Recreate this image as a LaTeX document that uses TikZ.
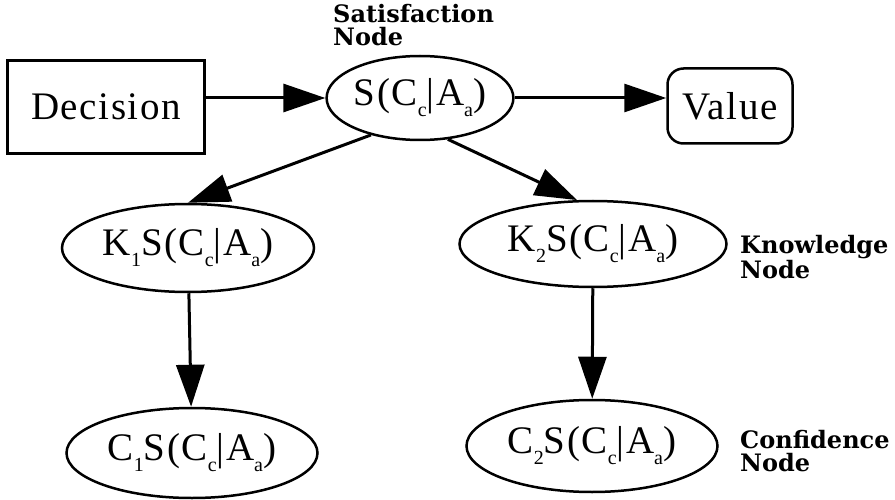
\documentclass[tikz,border=0pt]{standalone}
\usepackage{fontspec}
\setmainfont{Liberation Serif}[LetterSpace=4]
\newfontfamily\tagfont{DejaVu Serif}[BoldFont={DejaVu Serif Bold}]
\usetikzlibrary{arrows.meta,positioning}
\usetikzlibrary{shapes.geometric}
\newcommand{\sbs}[1]{\raisebox{-0.28em}{\fontsize{20}{20}\selectfont #1}}
\newcommand{\scc}{S(C\sbs{c}|A\sbs{a})}

\begin{document}
\begin{tikzpicture}[x=1pt,y=-1pt,
every node/.style={font=\fontsize{39}{40}\selectfont},
oval/.style={ellipse,draw,line width=2.5pt,inner sep=0pt},
tag/.style={font=\tagfont\bfseries\fontsize{24}{23}\selectfont,align=left,anchor=north west,inner sep=0pt},
arr/.style={line width=3pt,-{Triangle[length=42pt,width=28pt]}}]
\useasboundingbox (0,0) rectangle (895,500);
\node[draw,line width=2.5pt,minimum width=197pt,minimum height=93pt] (D) at (106,107) {Decision};
\node[oval,minimum width=176pt,minimum height=84pt] (S) at (420,98) {\scc};
\node[draw,rounded corners=16pt,line width=2.5pt,minimum width=125pt,minimum height=75pt] (V) at (730,106) {Value};
\node[oval,minimum width=252pt,minimum height=88pt] (K1) at (188,248) {K\sbs{1}\scc};
\node[oval,minimum width=267pt,minimum height=86pt] (K2) at (593,244) {K\sbs{2}\scc};
\node[oval,minimum width=251pt,minimum height=90pt] (C1) at (192,453) {C\sbs{1}\scc};
\node[oval,minimum width=251pt,minimum height=92pt] (C2) at (592,446) {C\sbs{2}\scc};
\node[tag] (TS) at (333,4) {Satisfaction\\Node};
\node[tag] (TK) at (740,235) {Knowledge\\Node};
\node[tag] (TC) at (740,430) {Confidence\\Node};
\draw[arr] (D.east |- S.west) -- (S.west);
\draw[arr] (S.east) -- (S.east -| V.west);
\draw[arr] (S.217) -- (K1.north);
\draw[arr] (S.-56) -- (K2.110);
\draw[arr] (K1) -- (C1);
\draw[arr] (K2) -- (C2);
\end{tikzpicture}
\end{document}
